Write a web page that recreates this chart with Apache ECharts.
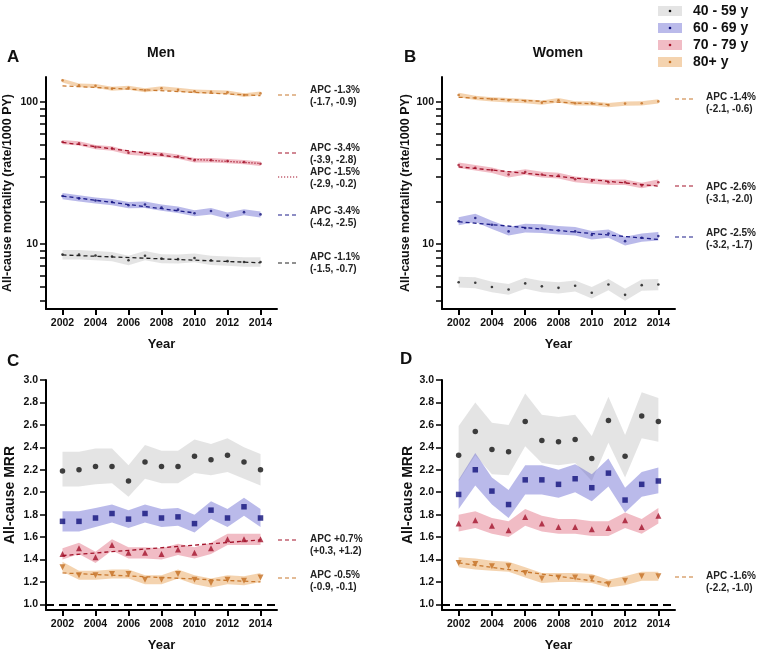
<!DOCTYPE html>
<html><head><meta charset="utf-8">
<script src="https://cdn.jsdelivr.net/npm/echarts@6/dist/echarts.min.js"></script>
<style>html,body{margin:0;padding:0;background:#fff}#c{width:760px;height:653px}</style>
</head><body><div id="c"></div>
<script>
// ---------- categories / ticks ----------
const years = [2002,2003,2004,2005,2006,2007,2008,2009,2010,2011,2012,2013,2014];
const yearTicks = [2002,2004,2006,2008,2010,2012,2014];
const logLabels = [10,100];
const logTicks = [4,5,6,7,8,9,10,20,30,40,50,60,70,80,90,100];
const mrrTicks = [1.0,1.2,1.4,1.6,1.8,2.0,2.2,2.4,2.6,2.8,3.0];
const groups = ['40 - 59 y','60 - 69 y','70 - 79 y','80+ y'];

// ---------- Panel A: Men, rate/1000 PY ----------
const menG   = [8.45,8.45,8.33,8.2,7.7,8.3,7.92,7.85,8.0,7.7,7.6,7.5,7.5];
const menGLo = [7.8,7.8,7.7,7.6,7.1,7.7,7.35,7.3,7.45,7.15,7.05,6.95,6.95];
const menGHi = [9.1,9.1,8.95,8.8,8.3,8.95,8.5,8.45,8.6,8.3,8.2,8.1,8.1];
const menB   = [21.8,21.0,20.3,19.8,18.8,19.0,18.1,17.5,16.5,17.1,15.9,16.8,16.2];
const menBLo = [20.7,20.0,19.3,18.8,17.9,18.0,17.2,16.6,15.7,16.2,15.1,16.0,15.4];
const menBHi = [22.9,22.1,21.3,20.8,19.8,20.0,19.0,18.4,17.3,18.0,16.7,17.6,17.0];
const menR   = [52.3,51.2,48.2,47.2,44.0,43.3,42.8,41.3,39.0,39.0,38.4,37.8,36.8];
const menRLo = [50.5,49.4,46.5,45.5,42.5,41.8,41.3,39.9,37.6,37.6,37.1,36.5,35.5];
const menRHi = [54.1,53.0,49.9,48.9,45.5,44.8,44.3,42.7,40.4,40.4,39.7,39.1,38.1];
const menO   = [142,131,130,124,126,121,125,122,119,118,117,112,115];
const menOLo = [137,127,126,120,122,117,121,118,115.5,114.5,113.5,108.5,111.5];
const menOHi = [146,135,134,128,130,125,129,126,122.5,121.5,120.5,115.5,118.5];
const menTrendG  = [[2002,8.4],[2014,7.4]];
const menTrendB  = [[2002,21.8],[2010,16.6]];
const menTrendR1 = [[2002,52],[2010,39.5]];
const menTrendR2 = [[2010,39.5],[2014,37]];
const menTrendO  = [[2002,130],[2014,111]];

// ---------- Panel B: Women, rate/1000 PY ----------
const womG   = [5.4,5.35,5.0,4.8,5.3,5.05,4.93,5.1,4.55,5.2,4.4,5.15,5.2];
const womGLo = [4.95,4.9,4.6,4.4,4.85,4.6,4.5,4.65,4.15,4.75,4.0,4.7,4.75];
const womGHi = [5.9,5.85,5.45,5.25,5.8,5.5,5.4,5.55,5.0,5.7,4.85,5.65,5.7];
const womB   = [14.5,15.3,13.7,12.3,13.0,12.9,12.5,12.3,11.6,11.9,10.5,11.1,11.4];
const womBLo = [13.6,14.3,12.8,11.5,12.1,12.0,11.7,11.5,10.8,11.1,9.8,10.4,10.6];
const womBHi = [15.5,16.4,14.6,13.2,13.9,13.8,13.4,13.2,12.4,12.7,11.3,11.9,12.2];
const womR   = [36.0,34.5,33.2,30.9,32.2,30.9,30.4,28.6,27.8,27.3,27.3,25.9,27.3];
const womRLo = [34.4,33.0,31.7,29.5,30.8,29.5,29.0,27.3,26.6,26.1,26.1,24.7,26.1];
const womRHi = [37.6,36.1,34.7,32.3,33.6,32.3,31.8,29.9,29.1,28.5,28.5,27.1,28.5];
const womO   = [112,107,104.5,103,101.6,99,103,98,98,95.3,97.5,98,101];
const womOLo = [108,103.3,100.8,99.4,98,95.5,99.4,94.6,94.6,92,94.1,94.6,97.5];
const womOHi = [116,110.7,108.2,106.6,105.2,102.5,106.6,101.4,101.4,98.6,100.9,101.4,104.5];
const womTrendB = [[2002,14.4],[2014,10.8]];
const womTrendR = [[2002,35],[2014,25.6]];
const womTrendO = [[2002,108],[2011,96]];

// ---------- Panel C: Men, MRR ----------
const mrrMG   = [2.19,2.20,2.23,2.23,2.10,2.27,2.23,2.23,2.32,2.29,2.33,2.27,2.20];
const mrrMGLo = [2.05,2.05,2.07,2.08,1.96,2.12,2.08,2.08,2.17,2.15,2.18,2.12,2.06];
const mrrMGHi = [2.36,2.36,2.39,2.39,2.24,2.42,2.37,2.37,2.47,2.43,2.48,2.40,2.34];
const mrrMB   = [1.74,1.74,1.77,1.81,1.76,1.81,1.77,1.78,1.72,1.84,1.77,1.87,1.77];
const mrrMBLo = [1.65,1.65,1.69,1.73,1.68,1.73,1.69,1.70,1.64,1.76,1.69,1.79,1.69];
const mrrMBHi = [1.83,1.83,1.86,1.89,1.84,1.89,1.85,1.86,1.80,1.92,1.85,1.95,1.85];
const mrrMR   = [1.45,1.50,1.42,1.53,1.46,1.46,1.45,1.49,1.46,1.50,1.58,1.58,1.58];
const mrrMRLo = [1.40,1.45,1.37,1.48,1.41,1.41,1.40,1.44,1.41,1.45,1.53,1.53,1.53];
const mrrMRHi = [1.50,1.55,1.47,1.58,1.51,1.51,1.50,1.54,1.51,1.55,1.63,1.63,1.63];
const mrrMO   = [1.33,1.26,1.26,1.27,1.27,1.22,1.22,1.27,1.22,1.19,1.22,1.21,1.24];
const mrrMOLo = [1.29,1.22,1.22,1.23,1.23,1.18,1.18,1.23,1.18,1.15,1.18,1.17,1.20];
const mrrMOHi = [1.38,1.30,1.30,1.31,1.31,1.26,1.26,1.31,1.26,1.23,1.26,1.25,1.28];
const mrrMTrendR = [[2002,1.435],[2014,1.575]];
const mrrMTrendO = [[2002,1.28],[2014,1.20]];

// ---------- Panel D: Women, MRR ----------
const mrrWG   = [2.33,2.54,2.38,2.36,2.63,2.46,2.45,2.47,2.30,2.64,2.32,2.68,2.63];
const mrrWGLo = [2.10,2.33,2.16,2.15,2.41,2.26,2.24,2.26,2.10,2.44,2.13,2.48,2.45];
const mrrWGHi = [2.59,2.80,2.62,2.60,2.88,2.69,2.67,2.69,2.50,2.85,2.51,2.89,2.84];
const mrrWB   = [1.98,2.20,2.01,1.89,2.11,2.11,2.07,2.12,2.04,2.17,1.93,2.07,2.10];
const mrrWBLo = [1.85,2.06,1.89,1.77,1.98,1.98,1.95,2.00,1.92,2.05,1.82,1.96,1.99];
const mrrWBHi = [2.11,2.35,2.13,2.02,2.24,2.24,2.20,2.25,2.16,2.30,2.04,2.18,2.22];
const mrrWR   = [1.72,1.75,1.70,1.66,1.78,1.72,1.69,1.69,1.67,1.68,1.75,1.69,1.79];
const mrrWRLo = [1.65,1.68,1.63,1.60,1.70,1.65,1.63,1.63,1.61,1.61,1.68,1.63,1.72];
const mrrWRHi = [1.80,1.83,1.77,1.74,1.85,1.79,1.76,1.76,1.74,1.74,1.82,1.76,1.86];
const mrrWO   = [1.37,1.36,1.34,1.34,1.28,1.23,1.24,1.24,1.23,1.18,1.21,1.25,1.25];
const mrrWOLo = [1.33,1.31,1.30,1.29,1.24,1.19,1.20,1.20,1.19,1.15,1.17,1.21,1.21];
const mrrWOHi = [1.42,1.41,1.39,1.38,1.33,1.28,1.28,1.28,1.27,1.22,1.25,1.29,1.29];
const mrrWTrendO = [[2002,1.37],[2011,1.19]];
const mrrRef = 1.0;

// ---------- styling ----------
const FONT = '"Liberation Sans", Arial, Helvetica, sans-serif';
const C = {
  g:{band:'rgba(170,170,170,0.32)', mark:'#111111', line:'#222222'},
  b:{band:'rgba(90,90,205,0.42)',  mark:'#10107a', line:'#1c1c8a'},
  r:{band:'rgba(215,70,95,0.36)',  mark:'#a3122a', line:'#a3122a'},
  o:{band:'rgba(228,145,55,0.40)', mark:'#c46f22', line:'#c8782e'}
};

function band(idx, lo, hi, color){
  return {type:'custom', xAxisIndex:idx, yAxisIndex:idx, silent:true, z:1,
    data: years.map((y,i)=>[y, lo[i], hi[i]]),
    encode:{x:0, y:[1,2]},
    renderItem:function(params, api){
      if (params.dataIndex !== 0) return null;
      const pts = [];
      for (let i=0;i<years.length;i++) pts.push(api.coord([years[i], hi[i]]));
      for (let i=years.length-1;i>=0;i--) pts.push(api.coord([years[i], lo[i]]));
      return {type:'polygon', shape:{points:pts}, style:{fill:color}};
    }};
}
function pts(idx, vals, color, symbol, size, rot){
  return {type:'scatter', xAxisIndex:idx, yAxisIndex:idx, silent:true, z:4,
    data: years.map((y,i)=>[y, vals[i]]), symbol:symbol, symbolSize:size, symbolRotate:rot||0,
    itemStyle:{color:color}};
}
function trend(idx, data, color, dash){
  return {type:'line', xAxisIndex:idx, yAxisIndex:idx, silent:true, z:5, data:data,
    symbol:'none', lineStyle:{color:color, width:1.3, type:dash||[4,3]}};
}

const axisLineStyle = {show:true, onZero:false, lineStyle:{color:'#000', width:2}};
function xAx(idx){
  return {gridIndex:idx, type:'value', min:2001, max:2015,
    name:'Year', nameLocation:'middle', nameGap:29,
    nameTextStyle:{fontWeight:'bold', fontSize:13, color:'#111', fontFamily:FONT},
    axisLine:axisLineStyle,
    axisTick:{show:true, customValues:yearTicks, length:6, lineStyle:{color:'#000', width:2}},
    axisLabel:{customValues:yearTicks, fontWeight:'bold', fontSize:10.5, color:'#111', fontFamily:FONT, margin:9, formatter:v=>String(v)},
    splitLine:{show:false}};
}
function yLog(idx, gap){
  return {gridIndex:idx, type:'log', logBase:10, min:3.5, max:150,
    name:'All-cause mortality (rate/1000 PY)', nameLocation:'middle', nameRotate:90, nameGap:gap,
    nameTextStyle:{fontWeight:'bold', fontSize:12.5, color:'#111', fontFamily:FONT},
    axisLine:axisLineStyle,
    axisTick:{show:true, customValues:logTicks, length:6, lineStyle:{color:'#000', width:1.5}},
    axisLabel:{customValues:logLabels, fontWeight:'bold', fontSize:10.5, color:'#111', fontFamily:FONT, margin:8, formatter:v=>String(Math.round(v))},
    splitLine:{show:false}, minorTick:{show:false}};
}
function yLin(idx, gap){
  return {gridIndex:idx, type:'value', min:0.95, max:3.0,
    name:'All-cause MRR', nameLocation:'middle', nameRotate:90, nameGap:gap,
    nameTextStyle:{fontWeight:'bold', fontSize:14, color:'#111', fontFamily:FONT},
    axisLine:axisLineStyle,
    axisTick:{show:true, customValues:mrrTicks, length:6, lineStyle:{color:'#000', width:1.5}},
    axisLabel:{customValues:mrrTicks, fontWeight:'bold', fontSize:10.5, color:'#111', fontFamily:FONT, margin:8, formatter:v=>Number(v).toFixed(1)},
    splitLine:{show:false}};
}

const series = [
  // Panel A
  band(0, menGLo, menGHi, C.g.band), band(0, menBLo, menBHi, C.b.band),
  band(0, menRLo, menRHi, C.r.band), band(0, menOLo, menOHi, C.o.band),
  pts(0, menG, C.g.mark, 'circle', 2.6), pts(0, menB, C.b.mark, 'circle', 2.6),
  pts(0, menR, C.r.mark, 'circle', 2.6), pts(0, menO, C.o.mark, 'circle', 2.6),
  trend(0, menTrendG, C.g.line), trend(0, menTrendB, C.b.line),
  trend(0, menTrendR1, C.r.line), trend(0, menTrendR2, C.r.line, [1.2,1.8]), trend(0, menTrendO, C.o.line),
  // Panel B
  band(1, womGLo, womGHi, C.g.band), band(1, womBLo, womBHi, C.b.band),
  band(1, womRLo, womRHi, C.r.band), band(1, womOLo, womOHi, C.o.band),
  pts(1, womG, C.g.mark, 'circle', 2.6), pts(1, womB, C.b.mark, 'circle', 2.6),
  pts(1, womR, C.r.mark, 'circle', 2.6), pts(1, womO, C.o.mark, 'circle', 2.6),
  trend(1, womTrendB, C.b.line), trend(1, womTrendR, C.r.line), trend(1, womTrendO, C.o.line),
  // Panel C
  band(2, mrrMGLo, mrrMGHi, C.g.band), band(2, mrrMBLo, mrrMBHi, C.b.band),
  band(2, mrrMRLo, mrrMRHi, C.r.band), band(2, mrrMOLo, mrrMOHi, C.o.band),
  pts(2, mrrMG, C.g.mark, 'circle', 5.5), pts(2, mrrMB, C.b.mark, 'rect', 5.5),
  pts(2, mrrMR, C.r.mark, 'triangle', 6), pts(2, mrrMO, C.o.mark, 'triangle', 6, 180),
  trend(2, mrrMTrendR, C.r.line), trend(2, mrrMTrendO, C.o.line),
  {type:'line', xAxisIndex:2, yAxisIndex:2, silent:true, z:6, data:[], markLine:{silent:true, symbol:'none', label:{show:false},
    lineStyle:{color:'#000', width:2, type:[8,5]}, data:[{yAxis:mrrRef}]}},
  // Panel D
  band(3, mrrWGLo, mrrWGHi, C.g.band), band(3, mrrWBLo, mrrWBHi, C.b.band),
  band(3, mrrWRLo, mrrWRHi, C.r.band), band(3, mrrWOLo, mrrWOHi, C.o.band),
  pts(3, mrrWG, C.g.mark, 'circle', 5.5), pts(3, mrrWB, C.b.mark, 'rect', 5.5),
  pts(3, mrrWR, C.r.mark, 'triangle', 6), pts(3, mrrWO, C.o.mark, 'triangle', 6, 180),
  trend(3, mrrWTrendO, C.o.line),
  {type:'line', xAxisIndex:3, yAxisIndex:3, silent:true, z:6, data:[], markLine:{silent:true, symbol:'none', label:{show:false},
    lineStyle:{color:'#000', width:2, type:[8,5]}, data:[{yAxis:mrrRef}]}}
];

// ---------- text / legend graphics ----------
const graphic = [];
function txt(x, y, s, size, align, vAlign){
  graphic.push({type:'text', x:x, y:y, silent:true, style:{text:s, fill:'#111', font:'bold '+size+'px '+FONT, align:align||'left', verticalAlign:vAlign||'middle'}});
}
txt(7, 57, 'A', 17); txt(404, 57, 'B', 17); txt(7, 361, 'C', 17); txt(400, 359, 'D', 17);
txt(161, 53, 'Men', 14, 'center'); txt(558, 53, 'Women', 14, 'center');

const legendColors = [C.g, C.b, C.r, C.o];
const legendY = [11, 28, 45, 62];
groups.forEach((g,i)=>{
  graphic.push({type:'rect', silent:true, shape:{x:658, y:legendY[i]-5, width:24, height:10}, style:{fill:legendColors[i].band}});
  graphic.push({type:'circle', silent:true, shape:{cx:670, cy:legendY[i], r:1.3}, style:{fill:legendColors[i].mark}});
  txt(693, legendY[i], g, 14);
});

function apc(x1, x2, ySeg, yText, color, dash, s){
  graphic.push({type:'line', silent:true, shape:{x1:x1, y1:ySeg, x2:x2, y2:ySeg}, style:{stroke:color, lineWidth:1.2, lineDash:dash||[4,3]}});
  graphic.push({type:'text', silent:true, x:x2+12, y:yText-6, style:{text:s, fill:'#222', font:'bold 10px '+FONT, lineHeight:12, align:'left', verticalAlign:'top'}});
}
apc(278, 298, 95, 90, C.o.line, null, 'APC -1.3%\n(-1.7, -0.9)');
apc(278, 298, 153, 148, C.r.line, null, 'APC -3.4%\n(-3.9, -2.8)');
apc(278, 298, 177, 172, C.r.line, [1.2,1.8], 'APC -1.5%\n(-2.9, -0.2)');
apc(278, 298, 215, 211, C.b.line, null, 'APC -3.4%\n(-4.2, -2.5)');
apc(278, 298, 263, 257, C.g.line, null, 'APC -1.1%\n(-1.5, -0.7)');
apc(675, 694, 99, 97, C.o.line, null, 'APC -1.4%\n(-2.1, -0.6)');
apc(675, 694, 186, 187, C.r.line, null, 'APC -2.6%\n(-3.1, -2.0)');
apc(675, 694, 237, 233, C.b.line, null, 'APC -2.5%\n(-3.2, -1.7)');
apc(278, 298, 540, 539, C.r.line, null, 'APC +0.7%\n(+0.3, +1.2)');
apc(278, 298, 578, 575, C.o.line, null, 'APC -0.5%\n(-0.9, -0.1)');
apc(675, 694, 577, 576, C.o.line, null, 'APC -1.6%\n(-2.2, -1.0)');

const option = {
  animation:false,
  backgroundColor:'#ffffff',
  textStyle:{fontFamily:FONT},
  grid:[
    {left:46, top:77, width:231, height:232},
    {left:442, top:77, width:233, height:232},
    {left:46, top:380, width:231, height:231},
    {left:442, top:380, width:233, height:231}
  ],
  xAxis:[xAx(0), xAx(1), xAx(2), xAx(3)],
  yAxis:[yLog(0,32), yLog(1,30), yLin(2,29), yLin(3,27)],
  series:series,
  graphic:graphic
};
const chart = echarts.init(document.getElementById('c'), null, {renderer:'canvas'});
chart.setOption(option);
</script>
</body></html>
